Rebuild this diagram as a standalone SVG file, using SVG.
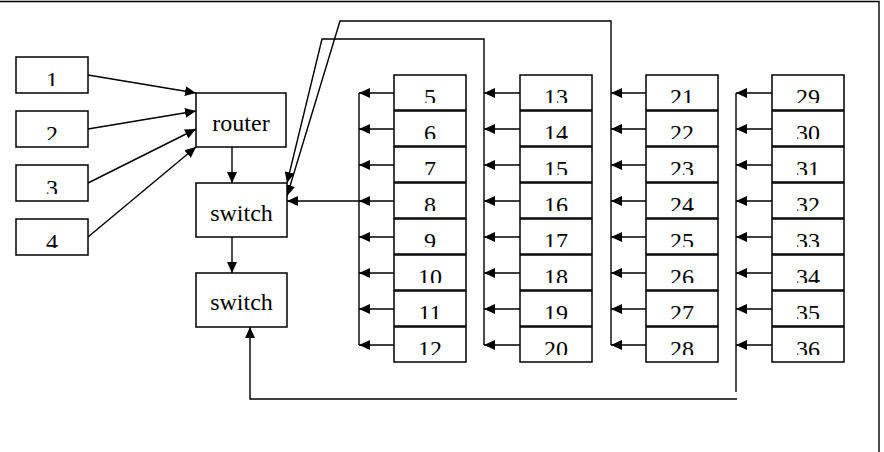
<svg xmlns="http://www.w3.org/2000/svg" width="884" height="452" viewBox="0 0 884 452">
<style>
.box{fill:#fff;stroke:#000;stroke-width:1.5}
.ln{fill:none;stroke:#000;stroke-width:1.4}
.ar{fill:none;stroke:#000;stroke-width:1.4;marker-end:url(#ah)}
.t{font-family:"Liberation Serif","Times New Roman",serif;font-size:24px;fill:#000;text-anchor:middle}
.n{clip-path:url(#nc)}
</style>
<defs>
<marker id="ah" markerWidth="11" markerHeight="10" refX="11" refY="5" orient="auto" markerUnits="userSpaceOnUse"><path d="M0,0 L11,5 L0,10 z" fill="#000"/></marker>
<clipPath id="nc" clipPathUnits="userSpaceOnUse">
<rect x="16" y="57" width="72" height="29"/><rect x="16" y="111" width="72" height="29"/><rect x="16" y="165" width="72" height="29"/><rect x="16" y="219" width="72" height="29"/>
<rect x="394" y="75" width="72" height="28"/><rect x="394" y="111" width="72" height="28"/><rect x="394" y="147" width="72" height="28"/><rect x="394" y="183" width="72" height="28"/><rect x="394" y="219" width="72" height="28"/><rect x="394" y="255" width="72" height="28"/><rect x="394" y="291" width="72" height="28"/><rect x="394" y="327" width="72" height="28"/>
<rect x="520" y="75" width="72" height="28"/><rect x="520" y="111" width="72" height="28"/><rect x="520" y="147" width="72" height="28"/><rect x="520" y="183" width="72" height="28"/><rect x="520" y="219" width="72" height="28"/><rect x="520" y="255" width="72" height="28"/><rect x="520" y="291" width="72" height="28"/><rect x="520" y="327" width="72" height="28"/>
<rect x="646" y="75" width="72" height="28"/><rect x="646" y="111" width="72" height="28"/><rect x="646" y="147" width="72" height="28"/><rect x="646" y="183" width="72" height="28"/><rect x="646" y="219" width="72" height="28"/><rect x="646" y="255" width="72" height="28"/><rect x="646" y="291" width="72" height="28"/><rect x="646" y="327" width="72" height="28"/>
<rect x="772" y="75" width="72" height="28"/><rect x="772" y="111" width="72" height="28"/><rect x="772" y="147" width="72" height="28"/><rect x="772" y="183" width="72" height="28"/><rect x="772" y="219" width="72" height="28"/><rect x="772" y="255" width="72" height="28"/><rect x="772" y="291" width="72" height="28"/><rect x="772" y="327" width="72" height="28"/>
</clipPath>
</defs>
<rect width="884" height="452" fill="#fff"/>
<path class="ln" d="M0,1.5 H879 V452"/>

<g id="connectors">
<path class="ar" d="M88,75 L196,93"/>
<path class="ar" d="M88,129 L196,111"/>
<path class="ar" d="M88,183 L196,129"/>
<path class="ar" d="M88,237 L196,147"/>
<path class="ar" d="M232,147 V183"/>
<path class="ar" d="M232,237 V273"/>
<path class="ln" d="M359,93 V345"/>
<path class="ar" d="M394,93 H359"/><path class="ar" d="M394,129 H359"/><path class="ar" d="M394,165 H359"/><path class="ar" d="M394,201 H359"/><path class="ar" d="M394,237 H359"/><path class="ar" d="M394,273 H359"/><path class="ar" d="M394,309 H359"/><path class="ar" d="M394,345 H359"/>
<path class="ar" d="M359,201 H287"/>
<path class="ar" d="M484,345 V39 H322 L287,183"/>
<path class="ar" d="M520,93 H484"/><path class="ar" d="M520,129 H484"/><path class="ar" d="M520,165 H484"/><path class="ar" d="M520,201 H484"/><path class="ar" d="M520,237 H484"/><path class="ar" d="M520,273 H484"/><path class="ar" d="M520,309 H484"/><path class="ar" d="M520,345 H484"/>
<path class="ar" d="M611,345 V21 H340 L287,196"/>
<path class="ar" d="M646,93 H611"/><path class="ar" d="M646,129 H611"/><path class="ar" d="M646,165 H611"/><path class="ar" d="M646,201 H611"/><path class="ar" d="M646,237 H611"/><path class="ar" d="M646,273 H611"/><path class="ar" d="M646,309 H611"/><path class="ar" d="M646,345 H611"/>
<path class="ln" d="M736,93 V392"/>
<path class="ar" d="M772,93 H736"/><path class="ar" d="M772,129 H736"/><path class="ar" d="M772,165 H736"/><path class="ar" d="M772,201 H736"/><path class="ar" d="M772,237 H736"/><path class="ar" d="M772,273 H736"/><path class="ar" d="M772,309 H736"/><path class="ar" d="M772,345 H736"/>
<path class="ar" d="M737,399 H250 V327"/>
</g>

<g id="n1"><rect class="box" x="16" y="57" width="72" height="36"/><text class="t n" x="52" y="88">1</text></g>
<g id="n2"><rect class="box" x="16" y="111" width="72" height="36"/><text class="t n" x="52" y="142">2</text></g>
<g id="n3"><rect class="box" x="16" y="165" width="72" height="36"/><text class="t n" x="52" y="196">3</text></g>
<g id="n4"><rect class="box" x="16" y="219" width="72" height="36"/><text class="t n" x="52" y="250">4</text></g>
<g id="router"><rect class="box" x="196" y="93" width="90" height="54"/><text class="t" x="241" y="131">router</text></g>
<g id="switch1"><rect class="box" x="196" y="183" width="91" height="54"/><text class="t" x="241.5" y="221">switch</text></g>
<g id="switch2"><rect class="box" x="196" y="273" width="91" height="54"/><text class="t" x="241.5" y="310">switch</text></g>

<g id="n5"><rect class="box" x="394" y="75" width="72" height="35"/><text class="t n" x="430" y="105">5</text></g>
<g id="n6"><rect class="box" x="394" y="111" width="72" height="35"/><text class="t n" x="430" y="141">6</text></g>
<g id="n7"><rect class="box" x="394" y="147" width="72" height="35"/><text class="t n" x="430" y="177">7</text></g>
<g id="n8"><rect class="box" x="394" y="183" width="72" height="35"/><text class="t n" x="430" y="213">8</text></g>
<g id="n9"><rect class="box" x="394" y="219" width="72" height="35"/><text class="t n" x="430" y="249">9</text></g>
<g id="n10"><rect class="box" x="394" y="255" width="72" height="35"/><text class="t n" x="430" y="285">10</text></g>
<g id="n11"><rect class="box" x="394" y="291" width="72" height="35"/><text class="t n" x="430" y="321">11</text></g>
<g id="n12"><rect class="box" x="394" y="327" width="72" height="35"/><text class="t n" x="430" y="357">12</text></g>

<g id="n13"><rect class="box" x="520" y="75" width="72" height="35"/><text class="t n" x="556" y="105">13</text></g>
<g id="n14"><rect class="box" x="520" y="111" width="72" height="35"/><text class="t n" x="556" y="141">14</text></g>
<g id="n15"><rect class="box" x="520" y="147" width="72" height="35"/><text class="t n" x="556" y="177">15</text></g>
<g id="n16"><rect class="box" x="520" y="183" width="72" height="35"/><text class="t n" x="556" y="213">16</text></g>
<g id="n17"><rect class="box" x="520" y="219" width="72" height="35"/><text class="t n" x="556" y="249">17</text></g>
<g id="n18"><rect class="box" x="520" y="255" width="72" height="35"/><text class="t n" x="556" y="285">18</text></g>
<g id="n19"><rect class="box" x="520" y="291" width="72" height="35"/><text class="t n" x="556" y="321">19</text></g>
<g id="n20"><rect class="box" x="520" y="327" width="72" height="35"/><text class="t n" x="556" y="357">20</text></g>

<g id="n21"><rect class="box" x="646" y="75" width="72" height="35"/><text class="t n" x="682" y="105">21</text></g>
<g id="n22"><rect class="box" x="646" y="111" width="72" height="35"/><text class="t n" x="682" y="141">22</text></g>
<g id="n23"><rect class="box" x="646" y="147" width="72" height="35"/><text class="t n" x="682" y="177">23</text></g>
<g id="n24"><rect class="box" x="646" y="183" width="72" height="35"/><text class="t n" x="682" y="213">24</text></g>
<g id="n25"><rect class="box" x="646" y="219" width="72" height="35"/><text class="t n" x="682" y="249">25</text></g>
<g id="n26"><rect class="box" x="646" y="255" width="72" height="35"/><text class="t n" x="682" y="285">26</text></g>
<g id="n27"><rect class="box" x="646" y="291" width="72" height="35"/><text class="t n" x="682" y="321">27</text></g>
<g id="n28"><rect class="box" x="646" y="327" width="72" height="35"/><text class="t n" x="682" y="357">28</text></g>

<g id="n29"><rect class="box" x="772" y="75" width="72" height="35"/><text class="t n" x="808" y="105">29</text></g>
<g id="n30"><rect class="box" x="772" y="111" width="72" height="35"/><text class="t n" x="808" y="141">30</text></g>
<g id="n31"><rect class="box" x="772" y="147" width="72" height="35"/><text class="t n" x="808" y="177">31</text></g>
<g id="n32"><rect class="box" x="772" y="183" width="72" height="35"/><text class="t n" x="808" y="213">32</text></g>
<g id="n33"><rect class="box" x="772" y="219" width="72" height="35"/><text class="t n" x="808" y="249">33</text></g>
<g id="n34"><rect class="box" x="772" y="255" width="72" height="35"/><text class="t n" x="808" y="285">34</text></g>
<g id="n35"><rect class="box" x="772" y="291" width="72" height="35"/><text class="t n" x="808" y="321">35</text></g>
<g id="n36"><rect class="box" x="772" y="327" width="72" height="35"/><text class="t n" x="808" y="357">36</text></g>
</svg>
